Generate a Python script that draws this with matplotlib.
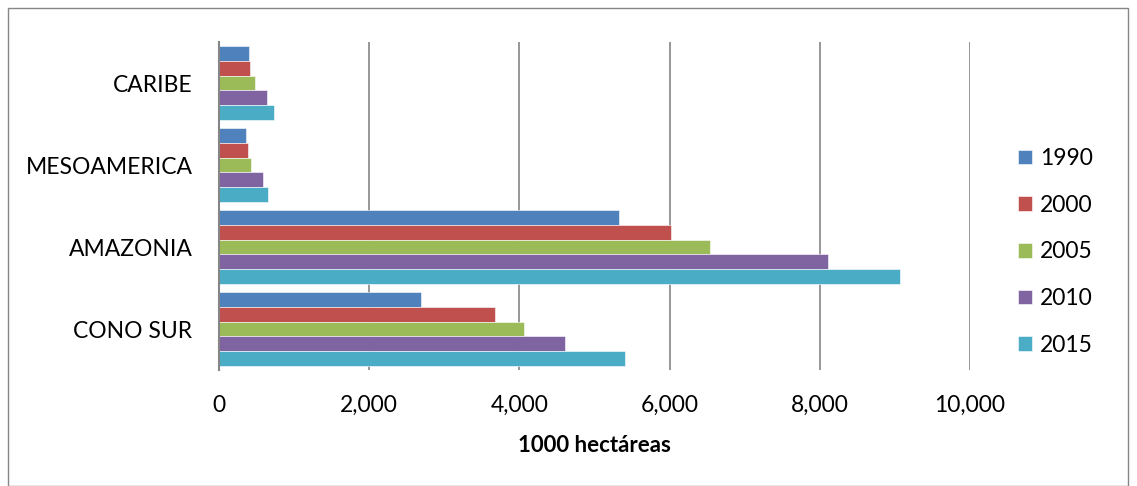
import numpy as np
import matplotlib.pyplot as plt
from matplotlib.patches import Rectangle

plt.rcParams['font.family'] = ['Lato', 'DejaVu Sans']

regions = ["CONO SUR", "AMAZONIA", "MESOAMERICA", "CARIBE"]
years = ["1990", "2000", "2005", "2010", "2015"]
colors = ["#4F81BD", "#C0504D", "#9BBB59", "#8064A2", "#4BACC6"]

# values in 1000 ha, order follows regions
v1990 = [2690, 5330, 364, 404]
v2000 = [3676, 6018, 382, 418]
v2005 = [4058, 6542, 427, 480]
v2010 = [4604, 8111, 591, 636]
v2015 = [5404, 9062, 649, 729]
series = [v1990, v2000, v2005, v2010, v2015]

fig = plt.figure(figsize=(11.37, 4.86), dpi=100)
ax = fig.add_axes([219 / 1137, 1 - 370 / 486, 751 / 1137, 328 / 486])

y = np.arange(len(regions))
h = 0.18
for i, (vals, c) in enumerate(zip(series, colors)):
    ax.barh(y + (2 - i) * h, vals, height=h, color=c, label=years[i],
            edgecolor="white", linewidth=0.4)

ax.set_xlim(0, 10000)
ax.set_ylim(-0.5, 3.5)
ax.set_xticks(range(0, 10001, 2000))
ax.set_xticklabels([f"{t:,}" for t in range(0, 10001, 2000)], fontsize=16.5)
ax.set_yticks(y)
ax.set_yticklabels(regions, fontsize=16.5)
ax.tick_params(axis="x", length=0, pad=18)
ax.tick_params(axis="y", length=0, pad=19)
ax.set_xlabel("1000 hectáreas", fontsize=16, fontweight="bold", labelpad=14)
ax.grid(axis="x", color="#868686", linewidth=1.2)
ax.set_axisbelow(True)
for s in ["top", "right", "bottom"]:
    ax.spines[s].set_visible(False)
ax.spines["left"].set_color("#868686")
ax.spines["left"].set_linewidth(1.5)

ax.legend(loc="center left", bbox_to_anchor=(1.037, 0.36), frameon=False,
          fontsize=16.5, handlelength=0.6, handleheight=0.6, handletextpad=0.35,
          labelspacing=1.12)

fig.patches.append(Rectangle((8 / 1137, 0), 1120 / 1137, 1 - 8 / 486,
                             transform=fig.transFigure, fill=False,
                             edgecolor="#868686", linewidth=1))

fig.savefig("out.png", dpi=100)
